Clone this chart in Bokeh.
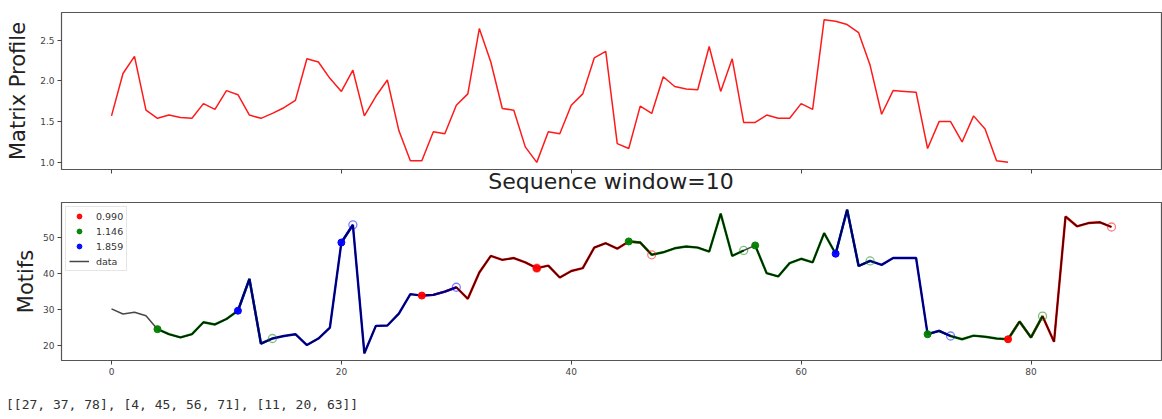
import numpy as np
from bokeh.plotting import figure
from bokeh.models import (Range1d, FixedTicker, Legend, LegendItem, Div,
                          PrintfTickFormatter)
from bokeh.layouts import column
from bokeh.embed import file_html
from bokeh.resources import INLINE

# ---------------- data ----------------
matrix_profile = [
    1.57, 2.09, 2.30, 1.64, 1.54, 1.58, 1.55, 1.54, 1.72, 1.65,
    1.88, 1.83, 1.58, 1.54, 1.60, 1.67, 1.76, 2.27, 2.23, 2.03,
    1.87, 2.13, 1.57, 1.81, 2.01, 1.39, 1.02, 1.02, 1.375, 1.35,
    1.70, 1.84, 2.64, 2.23, 1.66, 1.64, 1.19, 1.00, 1.375, 1.35,
    1.70, 1.84, 2.28, 2.36, 1.23, 1.17, 1.69, 1.60, 2.05, 1.93,
    1.90, 1.89, 2.42, 1.87, 2.27, 1.49, 1.49, 1.58, 1.54, 1.54,
    1.72, 1.65, 2.75, 2.73, 2.69, 2.59, 2.19, 1.59, 1.88, 1.87,
    1.86, 1.17, 1.50, 1.50, 1.25, 1.57, 1.41, 1.02, 1.00,
]

series = [
    30.2, 28.8, 29.3, 28.3, 24.6, 23.2, 22.3, 23.2, 26.5, 25.9,
    27.4, 29.7, 38.5, 20.6, 22.0, 22.7, 23.2, 20.2, 22.0, 25.0,
    48.6, 53.5, 17.9, 25.5, 25.6, 28.9, 34.3, 33.9, 34.1, 35.0,
    36.2, 33.0, 40.3, 44.9, 43.8, 44.3, 43.1, 41.5, 42.2, 38.9,
    40.7, 41.5, 47.2, 48.4, 46.9, 48.9, 48.6, 45.2, 45.9, 47.0,
    47.5, 47.2, 46.1, 56.6, 44.9, 46.4, 47.8, 40.1, 39.2, 42.9,
    44.1, 43.1, 51.2, 45.5, 57.7, 42.1, 43.5, 42.4, 44.3, 44.3,
    44.3, 23.2, 24.1, 22.7, 21.8, 22.8, 22.5, 22.0, 21.8, 26.7,
    22.3, 28.2, 21.1, 55.8, 53.1, 54.0, 54.2, 52.9,
]

motif_starts = [[27, 37, 78], [4, 45, 56, 71], [11, 20, 63]]
motif_dists = ["0.990", "1.146", "1.859"]
motif_colors = ["#ff0000", "#008000", "#0000ff"]
window = 10

x_ticks = [0, 20, 40, 60, 80]
mp_ticks = [1.0, 1.5, 2.0, 2.5]
series_ticks = [20, 30, 40, 50]

title_text = "Sequence window=10"
mp_label = "Matrix Profile"
series_label = "Motifs"

# ---------------- helpers ----------------
FONT = "DejaVu Sans"
FIG_W = 1162
BORDER_L = 61
BORDER_R = 1
n = len(series)
xs = np.arange(n)
x_pad = 0.05 * (n - 1)
x_range = Range1d(-x_pad, (n - 1) + x_pad)


def padded(vals):
    lo, hi = min(vals), max(vals)
    pad = 0.05 * (hi - lo)
    return Range1d(lo - pad, hi + pad)


def style(p, yticks, ylabel, show_xlabels, label_standoff):
    p.xgrid.grid_line_color = None
    p.ygrid.grid_line_color = None
    p.outline_line_color = "#555555"
    p.outline_line_width = 1.2
    p.xaxis.ticker = FixedTicker(ticks=x_ticks)
    p.yaxis.ticker = FixedTicker(ticks=yticks)
    for ax in (p.xaxis[0], p.yaxis[0]):
        ax.axis_line_color = None
        ax.major_tick_line_color = "#444444"
        ax.major_tick_in = 0
        ax.major_tick_out = 4
        ax.minor_tick_line_color = None
        ax.major_label_text_font = FONT
        ax.major_label_text_font_size = "9px"
        ax.major_label_text_color = "#444444"
        ax.major_label_standoff = 3
    if not show_xlabels:
        p.xaxis.major_label_overrides = {t: "" for t in x_ticks}
        p.xaxis.major_label_text_color = None
        p.xaxis.major_label_text_font_size = "1px"
        p.xaxis.major_label_standoff = 0
    p.yaxis.axis_label = ylabel
    p.yaxis.axis_label_text_font = FONT
    p.yaxis.axis_label_text_font_size = "21px"
    p.yaxis.axis_label_text_font_style = "normal"
    p.yaxis.axis_label_text_color = "#222222"
    p.yaxis.axis_label_standoff = label_standoff


# ---------------- top: matrix profile ----------------
p1 = figure(width=FIG_W, height=174, x_range=x_range, y_range=padded(matrix_profile),
            output_backend="svg", toolbar_location=None,
            min_border_left=BORDER_L, min_border_right=BORDER_R,
            min_border_top=12, min_border_bottom=5)
style(p1, mp_ticks, mp_label, False, 7)
p1.yaxis.formatter = PrintfTickFormatter(format="%.1f")
p1.line(np.arange(len(matrix_profile)), matrix_profile, color="#ff1a1a", line_width=1.5)

# ---------------- title of the lower panel ----------------
title_div = Div(text=title_text, width=FIG_W - BORDER_L - BORDER_R, height=28,
                margin=(0, 0, 0, BORDER_L),
                styles={"font-family": FONT, "font-size": "22px", "color": "#222222",
                        "line-height": "16px", "text-align": "center",
                        "white-space": "nowrap", "overflow": "visible"})

# ---------------- bottom: motifs ----------------
p2 = figure(width=FIG_W, height=190, x_range=x_range, y_range=padded(series),
            output_backend="svg", toolbar_location=None,
            min_border_left=BORDER_L, min_border_right=BORDER_R,
            min_border_top=0, min_border_bottom=32)
style(p2, series_ticks, series_label, True, 2)

# coloured motif windows
for starts, col in zip(motif_starts, motif_colors):
    for s in starts:
        e = min(s + window, n - 1)
        p2.line(xs[s:e + 1], series[s:e + 1], color=col, line_width=2.4)

data_r = p2.line(xs, series, color="black", alpha=0.72, line_width=1.5)

legend_items = []
for starts, col, d in zip(motif_starts, motif_colors, motif_dists):
    ends = [min(s + window, n - 1) for s in starts]
    p2.scatter(ends, [series[e] for e in ends], size=8, fill_color=None,
               line_color=col, line_alpha=0.5, line_width=1.3)
    r = p2.scatter(starts, [series[s] for s in starts], size=7, fill_color=col,
                   line_color=col, fill_alpha=0.95)
    legend_items.append(LegendItem(label=d, renderers=[r]))
legend_items.append(LegendItem(label="data", renderers=[data_r]))

legend = Legend(items=legend_items, location="top_left",
                label_text_font=FONT, label_text_font_size="9.5px",
                label_text_color="#333333",
                glyph_width=20, glyph_height=12, label_height=12,
                label_standoff=7, spacing=3, padding=3, margin=4,
                border_line_color="#cccccc", border_line_width=1,
                background_fill_color="white", background_fill_alpha=0.85)
p2.add_layout(legend)

caption = Div(text=str(motif_starts), width=600, height=26, margin=(0, 0, 0, 6),
              styles={"font-family": "DejaVu Sans Mono", "font-size": "13px",
                      "color": "#333333", "line-height": "26px",
                      "white-space": "pre", "overflow": "visible"})

layout = column(p1, title_div, p2, caption, spacing=0)
open("out.html", "w").write(file_html(layout, INLINE))
